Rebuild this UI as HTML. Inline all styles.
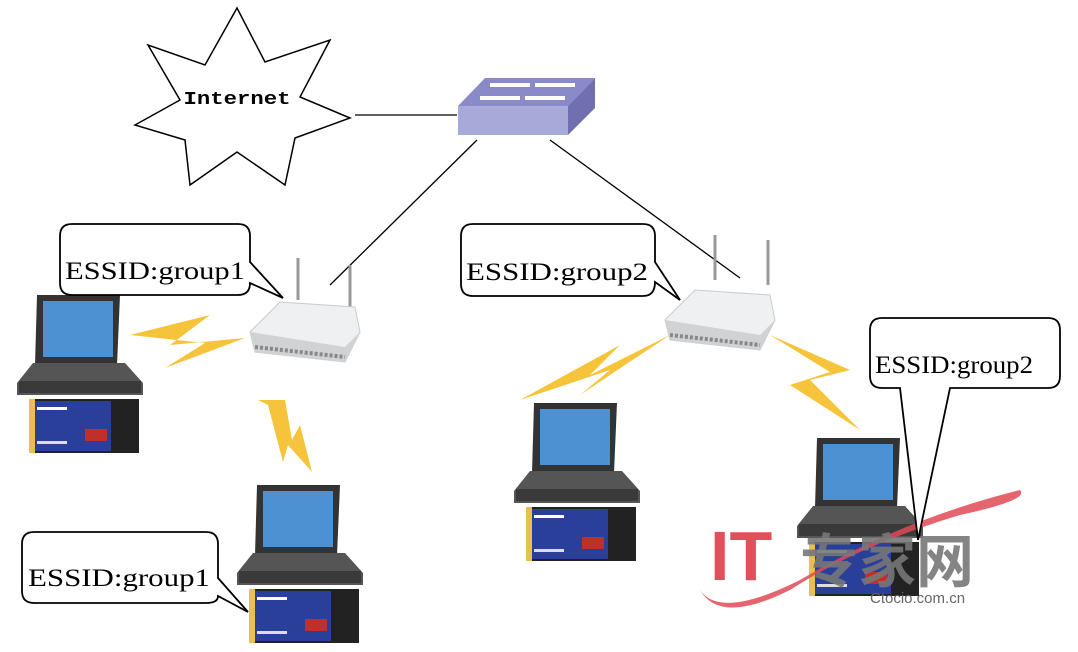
<!DOCTYPE html>
<html><head><meta charset="utf-8"><style>
html,body{margin:0;padding:0;background:#fff;}
svg{display:block;}
</style></head><body>
<svg width="1078" height="652" viewBox="0 0 1078 652" xmlns="http://www.w3.org/2000/svg" font-family="Liberation Serif, serif">
<defs>
<g id="laptop">
  <path d="M12 0 L95 0 L92 70 L10 70 Z" fill="#333"/>
  <rect x="18" y="6" width="70" height="56" fill="#3b7fc4"/>
  <rect x="18" y="6" width="70" height="56" fill="#5fa4e0" opacity="0.5"/>
  <path d="M8 68 L100 68 L118 88 L118 100 L-8 100 L-8 88 Z" fill="#555"/>
  <rect x="-6" y="86" width="122" height="12" fill="#3a3a3a"/>
  <rect x="4" y="104" width="110" height="54" fill="#222"/>
  <rect x="6" y="106" width="80" height="50" fill="#2a3f9a"/>
  <rect x="4" y="104" width="6" height="54" fill="#e8c050"/>
  <rect x="60" y="134" width="22" height="12" fill="#c0302a"/>
  <rect x="12" y="112" width="30" height="3" fill="#fff"/>
  <rect x="12" y="146" width="30" height="3" fill="#ddd"/>
</g>
<g id="ap">
  <path d="M0 40 L30 10 L105 15 L110 40 L95 70 L5 60 Z" fill="#eef0f2" stroke="#c8cacc"/>
  <path d="M0 40 L5 60 L95 70 L110 40 L95 55 Z" fill="#d0d2d4"/>
  <path d="M5 55 L95 65" stroke="#888" stroke-width="4" stroke-dasharray="3 2"/>
</g>
</defs>

<g stroke="#000" stroke-width="1.3" fill="none">
  <line x1="355" y1="115" x2="457" y2="115"/>
  <line x1="477" y1="140" x2="330" y2="285"/>
  <line x1="550" y1="140" x2="740" y2="278"/>
</g>

<polygon points="237,8 265,62 330,40 300,97 350,118 295,138 285,185 237,152 190,185 185,140 135,125 180,100 148,45 205,65" fill="#fff" stroke="#000" stroke-width="1.5"/>
<text x="237" y="104" font-family="Liberation Mono, monospace" font-size="18" font-weight="bold" text-anchor="middle" textLength="107" lengthAdjust="spacingAndGlyphs">Internet</text>

<polygon points="485,78 595,78 568,106 458,106" fill="#8a8ac8"/>
<polygon points="458,106 568,106 568,135 458,135" fill="#a9a9d9"/>
<polygon points="568,106 595,78 595,108 568,135" fill="#7070b0"/>
<g fill="#fff"><rect x="490" y="83" width="40" height="4"/><rect x="535" y="83" width="40" height="4"/><rect x="480" y="96" width="40" height="4"/><rect x="525" y="96" width="40" height="4"/></g>

<g stroke="#999" stroke-width="3"><line x1="298" y1="258" x2="298" y2="300"/><line x1="350" y1="265" x2="350" y2="312"/><line x1="715" y1="235" x2="715" y2="280"/><line x1="768" y1="240" x2="768" y2="285"/></g>
<use href="#ap" x="250" y="292"/>
<use href="#ap" x="665" y="280"/>

<g fill="#f5c43a">
  <polygon points="130,335 210,315 170,345 245,338 165,368 205,343"/>
  <polygon points="258,400 285,400 292,440 300,425 312,472 288,445 283,462 268,405"/>
  <polygon points="520,400 620,345 590,375 670,335 580,395 610,370"/>
  <polygon points="770,335 850,370 810,380 860,430 790,385 830,372"/>
</g>

<use href="#laptop" x="25" y="295"/>
<use href="#laptop" x="245" y="485"/>
<use href="#laptop" x="522" y="403"/>
<use href="#laptop" x="805" y="438"/>

<path d="M700 590 Q720 620 800 580 Q900 520 1020 490 Q1030 500 960 515 Q860 545 790 590 Q720 625 700 590Z" fill="#e04a55" opacity="0.85"/>
<text x="710" y="580" font-family="Liberation Sans, sans-serif" font-size="70" fill="#e0505a" font-weight="bold">IT</text>
<text x="800" y="582" font-family="Liberation Sans, 'Noto Sans CJK SC', sans-serif" font-size="58" fill="#777" font-weight="bold" opacity="0.9">专家网</text>
<text x="870" y="603" font-family="Liberation Sans, sans-serif" font-size="15" fill="#666">Ctocio.com.cn</text>

<g fill="#fff" stroke="#000" stroke-width="1.8">
  <path d="M72 224 H238 Q250 224 250 236 V262 L283 298 L250 283 Q250 295 238 295 H72 Q60 295 60 283 V236 Q60 224 72 224Z"/>
  <path d="M473 224 H643 Q655 224 655 236 V262 L680 300 L655 282 Q655 296 643 296 H473 Q461 296 461 284 V236 Q461 224 473 224Z"/>
  <path d="M882 318 H1048 Q1060 318 1060 330 V376 Q1060 388 1048 388 H950 L918 540 L900 388 H882 Q870 388 870 376 V330 Q870 318 882 318Z"/>
  <path d="M34 532 H206 Q218 532 218 544 V578 L248 612 L218 596 Q218 603 206 603 H34 Q22 603 22 591 V544 Q22 532 34 532Z"/>
</g>
<g font-size="25" fill="#000">
  <text x="65" y="279" textLength="180" lengthAdjust="spacingAndGlyphs">ESSID:group1</text>
  <text x="466" y="280" textLength="182" lengthAdjust="spacingAndGlyphs">ESSID:group2</text>
  <text x="875" y="373" textLength="158" lengthAdjust="spacingAndGlyphs">ESSID:group2</text>
  <text x="28" y="586" textLength="182" lengthAdjust="spacingAndGlyphs">ESSID:group1</text>
</g>
</svg>
</body></html>
